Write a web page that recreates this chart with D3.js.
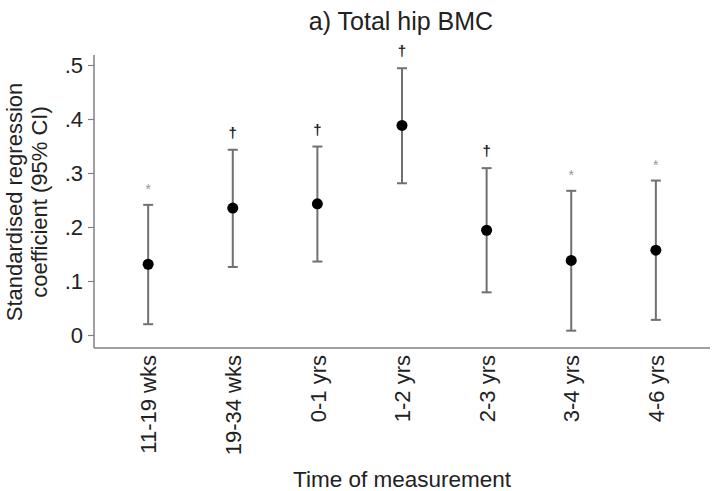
<!DOCTYPE html>
<html>
<head>
<meta charset="utf-8">
<script src="https://d3js.org/d3.v7.min.js"></script>
<style>
  body { margin: 0; background: white; }
  text { font-family: Arial, "Liberation Sans", sans-serif; fill: #222; }
</style>
</head>
<body>
<div id="chart"></div>
<script>
var categories = ["11-19 wks", "19-34 wks", "0-1 yrs", "1-2 yrs", "2-3 yrs", "3-4 yrs", "4-6 yrs"];
var estimates = [0.131, 0.235, 0.243, 0.388, 0.194, 0.138, 0.157];
var lower = [0.020, 0.126, 0.136, 0.281, 0.079, 0.008, 0.028];
var upper = [0.241, 0.343, 0.349, 0.494, 0.309, 0.267, 0.286];
var markers = ["*", "\u2020", "\u2020", "\u2020", "\u2020", "*", "*"];
var yTicks = [0, 0.1, 0.2, 0.3, 0.4, 0.5];

var width = 714, height = 491;
var svg = d3.select("#chart").append("svg")
  .attr("width", width).attr("height", height);

var x = d3.scalePoint().domain(categories).range([94, 710]).padding(0.64);
var y = d3.scaleLinear().domain([0, 0.5]).range([335, 65]);

// title
svg.append("text")
  .attr("x", 401).attr("y", 30)
  .attr("text-anchor", "middle")
  .style("font-size", "25px")
  .text("a) Total hip BMC");

// y axis
var yAxis = svg.append("g")
  .attr("transform", "translate(94,0)")
  .call(d3.axisLeft(y).tickValues(yTicks).tickSize(6).tickPadding(5)
    .tickFormat(function (d) { return d === 0 ? "0" : d3.format(".1f")(d).replace(/^0/, ""); }));
yAxis.select(".domain").attr("d", "M0,55V348").attr("stroke", "#808080").attr("stroke-width", 1.5);
yAxis.selectAll(".tick line").attr("stroke", "#808080").attr("stroke-width", 1.2);
yAxis.selectAll(".tick text").style("font-size", "22px").attr("fill", "#333")
  .attr("font-family", "Arial, 'Liberation Sans', sans-serif");

// x axis
var xAxis = svg.append("g")
  .attr("transform", "translate(0,348)")
  .call(d3.axisBottom(x).tickSize(0).tickPadding(0));
xAxis.select(".domain").attr("d", "M94,0H710").attr("stroke", "#808080").attr("stroke-width", 1.5);
xAxis.selectAll(".tick text")
  .style("font-size", "22px").attr("fill", "#333")
  .attr("font-family", "Arial, 'Liberation Sans', sans-serif")
  .attr("text-anchor", "end")
  .attr("transform", "rotate(-90)")
  .attr("x", -7).attr("y", 0).attr("dy", "0.35em");

// axis titles
svg.append("text")
  .attr("transform", "translate(22,202) rotate(-90)")
  .attr("text-anchor", "middle")
  .style("font-size", "22px")
  .text("Standardised regression");
svg.append("text")
  .attr("transform", "translate(47,202) rotate(-90)")
  .attr("text-anchor", "middle")
  .style("font-size", "22px")
  .text("coefficient (95% CI)");
svg.append("text")
  .attr("x", 402).attr("y", 487)
  .attr("text-anchor", "middle")
  .style("font-size", "22.5px")
  .text("Time of measurement");

// error bars
var g = svg.selectAll(".pt").data(categories).enter().append("g").attr("class", "pt");
g.append("line")
  .attr("x1", function (d) { return x(d); }).attr("x2", function (d) { return x(d); })
  .attr("y1", function (d, i) { return y(lower[i]); })
  .attr("y2", function (d, i) { return y(upper[i]); })
  .attr("stroke", "#707070").attr("stroke-width", 2);
g.append("line")
  .attr("x1", function (d) { return x(d) - 5; }).attr("x2", function (d) { return x(d) + 5; })
  .attr("y1", function (d, i) { return y(lower[i]); })
  .attr("y2", function (d, i) { return y(lower[i]); })
  .attr("stroke", "#707070").attr("stroke-width", 2);
g.append("line")
  .attr("x1", function (d) { return x(d) - 5; }).attr("x2", function (d) { return x(d) + 5; })
  .attr("y1", function (d, i) { return y(upper[i]); })
  .attr("y2", function (d, i) { return y(upper[i]); })
  .attr("stroke", "#707070").attr("stroke-width", 2);
g.append("circle")
  .attr("cx", function (d) { return x(d); })
  .attr("cy", function (d, i) { return y(estimates[i]); })
  .attr("r", 5.5)
  .attr("fill", "#000");

// significance markers
g.append("text")
  .attr("x", function (d) { return x(d); })
  .attr("y", function (d, i) { return y(upper[i]) - (markers[i] === "*" ? 11 : 12); })
  .attr("text-anchor", "middle")
  .attr("font-family", "'DejaVu Sans', sans-serif")
  .style("font-size", function (d, i) { return markers[i] === "*" ? "14px" : "15px"; })
  .style("font-weight", function (d, i) { return markers[i] === "*" ? "normal" : "bold"; })
  .style("fill", function (d, i) { return markers[i] === "*" ? "#999" : "#222"; })
  .text(function (d, i) { return markers[i]; });
</script>
</body>
</html>
